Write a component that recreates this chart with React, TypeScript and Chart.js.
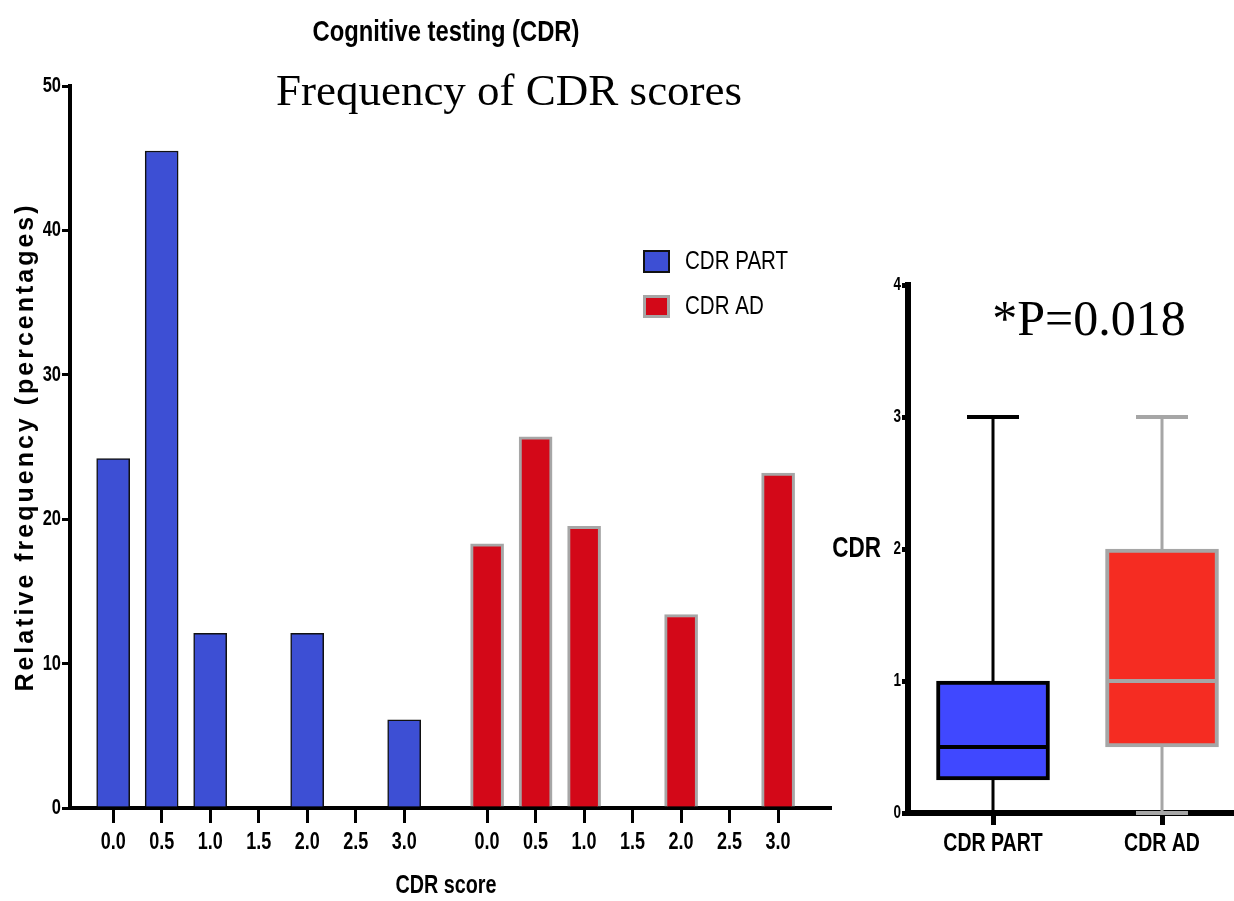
import React, { useEffect, useRef } from "react";
import { Chart, registerables } from "chart.js";

Chart.register(...registerables);

// ---------- data ----------
const cdrCategories = ["0.0", "0.5", "1.0", "1.5", "2.0", "2.5", "3.0"];
const partValues = [24.2, 45.5, 12.1, 0, 12.1, 0, 6.1];
const adValues = [18.3, 25.7, 19.5, 0, 13.4, 0, 23.2];
const seriesLabels = ["CDR PART", "CDR AD"];
const groupOffset = 7.71; // start of second group, in category units
const leftTickLabels = [...cdrCategories, ...cdrCategories];

const boxLabels = ["CDR PART", "CDR AD"];
const boxMin = [0, 0];
const boxQ1 = [0.25, 0.5];
const boxMedian = [0.5, 1];
const boxQ3 = [1, 2];
const boxMax = [3, 3];

const mainTitle = "Cognitive testing (CDR)";
const chartTitle = "Frequency of CDR scores";
const yTitleLeft = "Relative frequency (percentages)";
const xTitleLeft = "CDR score";
const yTitleRight = "CDR";
const pText = "*P=0.018";

// ---------- styles ----------
const SANS = "'Liberation Sans', Arial, sans-serif";
const SERIF = "'Liberation Serif', 'Times New Roman', serif";
const NARROW_X = 0.82; // horizontal compression to mimic a narrow face
const TICK_X = 0.75;
const BLUE = "#3D4FD4";
const RED = "#D30818";
const GRAY = "#A6A6A6";
const BOX_BLUE = "#4048FF";
const BOX_RED = "#F52C22";

function drawText(
  ctx: CanvasRenderingContext2D,
  text: string,
  x: number,
  y: number,
  font: string,
  align: CanvasTextAlign,
  baseline: CanvasTextBaseline,
  sx = 1
) {
  ctx.save();
  ctx.fillStyle = "#000";
  ctx.font = font;
  ctx.textAlign = align;
  ctx.textBaseline = baseline;
  ctx.translate(x, y);
  ctx.scale(sx, 1);
  ctx.fillText(text, 0, 0);
  ctx.restore();
}

const leftDecor = {
  id: "leftDecor",
  afterDraw(chart: any) {
    const ctx: CanvasRenderingContext2D = chart.ctx;
    const xs = chart.scales.x;
    const ys = chart.scales.y;
    ctx.save();
    drawText(ctx, mainTitle, 446, 33, `bold 29px ${SANS}`, "center", "middle", NARROW_X);
    drawText(ctx, chartTitle, 509, 105, `45px ${SERIF}`, "center", "alphabetic");

    // tick labels
    xs.ticks.forEach((t: any, i: number) => {
      drawText(ctx, leftTickLabels[i], xs.getPixelForValue(t.value), 842, `bold 24px ${SANS}`, "center", "middle", TICK_X);
    });
    ys.ticks.forEach((t: any) => {
      drawText(ctx, String(t.value), 61, ys.getPixelForValue(t.value), `bold 22px ${SANS}`, "right", "middle", TICK_X);
    });
    drawText(ctx, xTitleLeft, 446, 886, `bold 26px ${SANS}`, "center", "middle", 0.76);

    // y title
    ctx.save();
    ctx.translate(26, (chart.chartArea.top + chart.chartArea.bottom) / 2);
    ctx.rotate(-Math.PI / 2);
    ctx.font = `bold 25px ${SANS}`;
    (ctx as any).letterSpacing = "3px";
    ctx.textBaseline = "middle";
    ctx.textAlign = "center";
    ctx.fillStyle = "#000";
    ctx.fillText(yTitleLeft, 0, 0);
    ctx.restore();

    // legend
    const ds = chart.data.datasets;
    ds.forEach((d: any, i: number) => {
      const x = 643;
      const y = 250 + i * 45;
      ctx.fillStyle = d.backgroundColor;
      ctx.fillRect(x, y, 27, 23);
      ctx.strokeStyle = d.borderColor;
      ctx.lineWidth = i === 0 ? 2 : 3;
      const o = ctx.lineWidth / 2;
      ctx.strokeRect(x + o, y + o, 27 - 2 * o, 23 - 2 * o);
      drawText(ctx, d.label, 685, y + 12, `26px ${SANS}`, "left", "middle", 0.79);
    });
    ctx.restore();
  },
};

const rightDecor = {
  id: "rightDecor",
  afterDatasetsDraw(chart: any) {
    const ctx = chart.ctx;
    const xs = chart.scales.x;
    const ys = chart.scales.y;
    ctx.save();
    boxLabels.forEach((_, i) => {
      const cx = xs.getPixelForValue(i);
      const color = i === 0 ? "#000" : GRAY;
      ctx.strokeStyle = color;
      ctx.lineCap = "butt";
      // whiskers
      ctx.lineWidth = 3;
      ctx.beginPath();
      ctx.moveTo(cx, ys.getPixelForValue(boxQ3[i]));
      ctx.lineTo(cx, ys.getPixelForValue(boxMax[i]));
      ctx.moveTo(cx, ys.getPixelForValue(boxQ1[i]));
      ctx.lineTo(cx, ys.getPixelForValue(boxMin[i]));
      ctx.stroke();
      // caps
      ctx.lineWidth = 4;
      ctx.beginPath();
      ctx.moveTo(cx - 26, ys.getPixelForValue(boxMax[i]));
      ctx.lineTo(cx + 26, ys.getPixelForValue(boxMax[i]));
      ctx.moveTo(cx - 26, ys.getPixelForValue(boxMin[i]));
      ctx.lineTo(cx + 26, ys.getPixelForValue(boxMin[i]));
      ctx.stroke();
      // median
      ctx.beginPath();
      ctx.moveTo(cx - 55, ys.getPixelForValue(boxMedian[i]));
      ctx.lineTo(cx + 55, ys.getPixelForValue(boxMedian[i]));
      ctx.stroke();
    });
    ctx.restore();
  },
  afterDraw(chart: any) {
    const ctx = chart.ctx;
    const xs = chart.scales.x;
    const ys = chart.scales.y;
    xs.ticks.forEach((t: any, i: number) => {
      drawText(ctx, boxLabels[i], xs.getPixelForValue(t.value), 844, `bold 26px ${SANS}`, "center", "middle", TICK_X);
    });
    ys.ticks.forEach((t: any) => {
      drawText(ctx, String(t.value), 86, ys.getPixelForValue(t.value), `bold 18px ${SANS}`, "right", "middle", TICK_X);
    });
    drawText(ctx, yTitleRight, 66, ys.getPixelForValue(2), `bold 30px ${SANS}`, "right", "middle", TICK_X);
    drawText(ctx, pText, 274, 335, `50px ${SERIF}`, "center", "alphabetic");
  },
};

export default function App() {
  const leftRef = useRef<HTMLCanvasElement>(null);
  const rightRef = useRef<HTMLCanvasElement>(null);

  useEffect(() => {
    const tickPositions = [
      ...cdrCategories.map((_, i) => i),
      ...cdrCategories.map((_, i) => i + groupOffset),
    ];

    const left = new Chart(leftRef.current as HTMLCanvasElement, {
      type: "bar",
      data: {
        datasets: [
          {
            label: seriesLabels[0],
            data: partValues.map((v, i) => ({ x: i, y: v })),
            backgroundColor: BLUE,
            borderColor: "#111",
            borderWidth: 1.5,
            barThickness: 33,
            grouped: false,
          } as any,
          {
            label: seriesLabels[1],
            data: adValues.map((v, i) => ({ x: i + groupOffset, y: v })),
            backgroundColor: RED,
            borderColor: GRAY,
            borderWidth: 3,
            barThickness: 33,
            grouped: false,
          } as any,
        ],
      },
      options: {
        responsive: false,
        animation: false,
        devicePixelRatio: 1,
        layout: { padding: { top: 86, right: 10, left: 0, bottom: 0 } },
        plugins: { legend: { display: false }, tooltip: { enabled: false } },
        scales: {
          x: {
            type: "linear",
            offset: false,
            min: -0.89,
            max: 14.78,
            afterBuildTicks: (scale: any) => {
              scale.ticks = tickPositions.map((v) => ({ value: v }));
            },
            afterFit: (scale: any) => {
              scale.height = 93;
            },
            ticks: { display: false, autoSkip: false },
            grid: {
              offset: false,
              drawOnChartArea: false,
              drawTicks: true,
              tickLength: 15,
              color: "#000",
              lineWidth: 3,
            },
            border: { display: true, color: "#000", width: 4 },
          } as any,
          y: {
            min: 0,
            max: 50,
            afterFit: (scale: any) => {
              scale.width = 70;
            },
            ticks: { display: false, stepSize: 10 },
            grid: {
              drawOnChartArea: false,
              drawTicks: true,
              tickLength: 8,
              color: "#000",
              lineWidth: 3,
            },
            border: { display: true, color: "#000", width: 4 },
          } as any,
        },
      },
      plugins: [leftDecor],
    });

    const right = new Chart(rightRef.current as HTMLCanvasElement, {
      type: "bar",
      data: {
        datasets: [
          {
            label: "box",
            data: boxLabels.map((_, i) => ({ x: i, y: [boxQ1[i], boxQ3[i]] })),
            backgroundColor: [BOX_BLUE, BOX_RED],
            borderColor: ["#000", GRAY],
            borderWidth: 4,
            borderSkipped: false,
            barThickness: 113,
            grouped: false,
          } as any,
        ],
      },
      options: {
        responsive: false,
        animation: false,
        devicePixelRatio: 1,
        layout: { padding: { top: 285, right: 0, left: 0, bottom: 0 } },
        plugins: { legend: { display: false }, tooltip: { enabled: false } },
        scales: {
          x: {
            type: "linear",
            offset: false,
            min: -0.503,
            max: 1.426,
            afterBuildTicks: (scale: any) => {
              scale.ticks = boxLabels.map((_, i) => ({ value: i }));
            },
            afterFit: (scale: any) => {
              scale.height = 88;
            },
            ticks: { display: false, autoSkip: false },
            grid: {
              offset: false,
              drawOnChartArea: false,
              drawTicks: true,
              tickLength: 12,
              color: "#000",
              lineWidth: 5,
            },
            border: { display: true, color: "#000", width: 6 },
          } as any,
          y: {
            min: 0,
            max: 4,
            afterFit: (scale: any) => {
              scale.width = 93;
            },
            ticks: { display: false, stepSize: 1 },
            grid: {
              drawOnChartArea: false,
              drawTicks: true,
              tickLength: 6,
              color: "#000",
              lineWidth: 5,
            },
            border: { display: true, color: "#000", width: 6 },
          } as any,
        },
      },
      plugins: [rightDecor],
    });

    return () => {
      left.destroy();
      right.destroy();
    };
  }, []);

  return (
    <div
      style={{
        position: "fixed",
        left: 0,
        top: 0,
        width: 1234,
        height: 901,
        background: "#fff",
        overflow: "hidden",
      }}
    >
      <div style={{ position: "absolute", left: 0, top: 0, width: 840, height: 901 }}>
        <canvas ref={leftRef} width={840} height={901} style={{ width: 840, height: 901 }} />
      </div>
      <div style={{ position: "absolute", left: 815, top: 0, width: 419, height: 901 }}>
        <canvas ref={rightRef} width={419} height={901} style={{ width: 419, height: 901 }} />
      </div>
    </div>
  );
}
